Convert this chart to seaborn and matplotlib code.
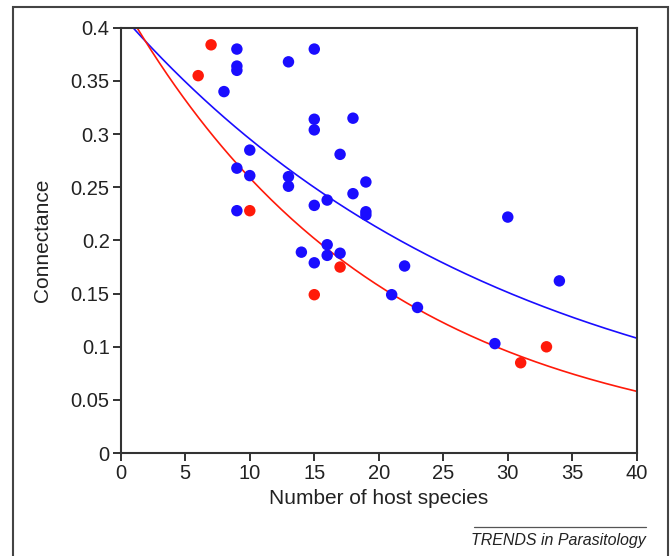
import numpy as np
import pandas as pd
import matplotlib.pyplot as plt
import seaborn as sns
from matplotlib.patches import Rectangle
from matplotlib.lines import Line2D

# data
red_hosts = [6, 7, 10, 15, 17, 31, 33]
red_conn = [0.355, 0.384, 0.228, 0.149, 0.175, 0.085, 0.100]

blue_hosts = [8, 9, 9, 9, 9, 9, 10, 10, 13, 13, 13, 14, 15, 15, 15, 15, 15,
              16, 16, 16, 17, 17, 18, 18, 19, 19, 19, 21, 22, 23, 29, 30, 34]
blue_conn = [0.340, 0.380, 0.364, 0.360, 0.268, 0.228, 0.285, 0.261, 0.368,
             0.260, 0.251, 0.189, 0.380, 0.314, 0.304, 0.233, 0.179, 0.238,
             0.196, 0.186, 0.281, 0.188, 0.315, 0.244, 0.255, 0.227, 0.224,
             0.149, 0.176, 0.137, 0.103, 0.222, 0.162]

# fitted curves y = a * exp(-b * x)
blue_fit = (0.413, 0.0335)
red_fit = (0.426, 0.0498)

x_ticks = [0, 5, 10, 15, 20, 25, 30, 35, 40]
y_ticks = [0, 0.05, 0.1, 0.15, 0.2, 0.25, 0.3, 0.35, 0.4]
y_labels = ['0', '0.05', '0.1', '0.15', '0.2', '0.25', '0.3', '0.35', '0.4']

sns.set_style('white')
plt.rcParams['font.family'] = ['Liberation Sans', 'DejaVu Sans']

pts = pd.DataFrame({
    'hosts': red_hosts + blue_hosts,
    'conn': red_conn + blue_conn,
    'group': ['red'] * len(red_hosts) + ['blue'] * len(blue_hosts),
})

xx = np.linspace(0, 40, 200)
curves = pd.DataFrame({
    'hosts': np.concatenate([xx, xx]),
    'conn': np.concatenate([blue_fit[0] * np.exp(-blue_fit[1] * xx),
                            red_fit[0] * np.exp(-red_fit[1] * xx)]),
    'group': ['blue'] * len(xx) + ['red'] * len(xx),
})

pal = {'red': '#ff1a0a', 'blue': '#1a0dff'}

fig = plt.figure(figsize=(6.71, 5.56), dpi=100)
ax = fig.add_axes([0.180, 0.185, 0.769, 0.765])

sns.lineplot(data=curves, x='hosts', y='conn', hue='group', palette=pal,
             linewidth=1.2, legend=False, ax=ax)
sns.scatterplot(data=pts, x='hosts', y='conn', hue='group', palette=pal,
                s=68, edgecolor='none', legend=False, ax=ax, zorder=3)

ax.set_xlim(0, 40)
ax.set_ylim(0, 0.4)
ax.set_xticks(x_ticks)
ax.set_yticks(y_ticks)
ax.set_yticklabels(y_labels)
ax.tick_params(axis='both', bottom=True, left=True, direction='out',
               labelsize=14.5, colors='#222222', length=6, width=1.3, pad=2)
for sp in ax.spines.values():
    sp.set_color('#333333')
    sp.set_linewidth(1.5)
ax.set_xlabel('Number of host species', fontsize=15, color='#222222', labelpad=4)
ax.set_ylabel('Connectance', fontsize=15, color='#222222', labelpad=13)

# outer frame of the figure panel
fig.patches.append(Rectangle((0.019, -0.02), 0.976, 1.007, transform=fig.transFigure,
                             fill=False, edgecolor='#444444', linewidth=1.5))
fig.lines.append(Line2D([0.706, 0.962], [0.052, 0.052], transform=fig.transFigure,
                        color='#555555', linewidth=0.9))
fig.text(0.962, 0.027, 'TRENDS in Parasitology', ha='right', va='center',
         fontsize=11.5, style='italic', color='#222222')

fig.savefig('out.png', dpi=100)
